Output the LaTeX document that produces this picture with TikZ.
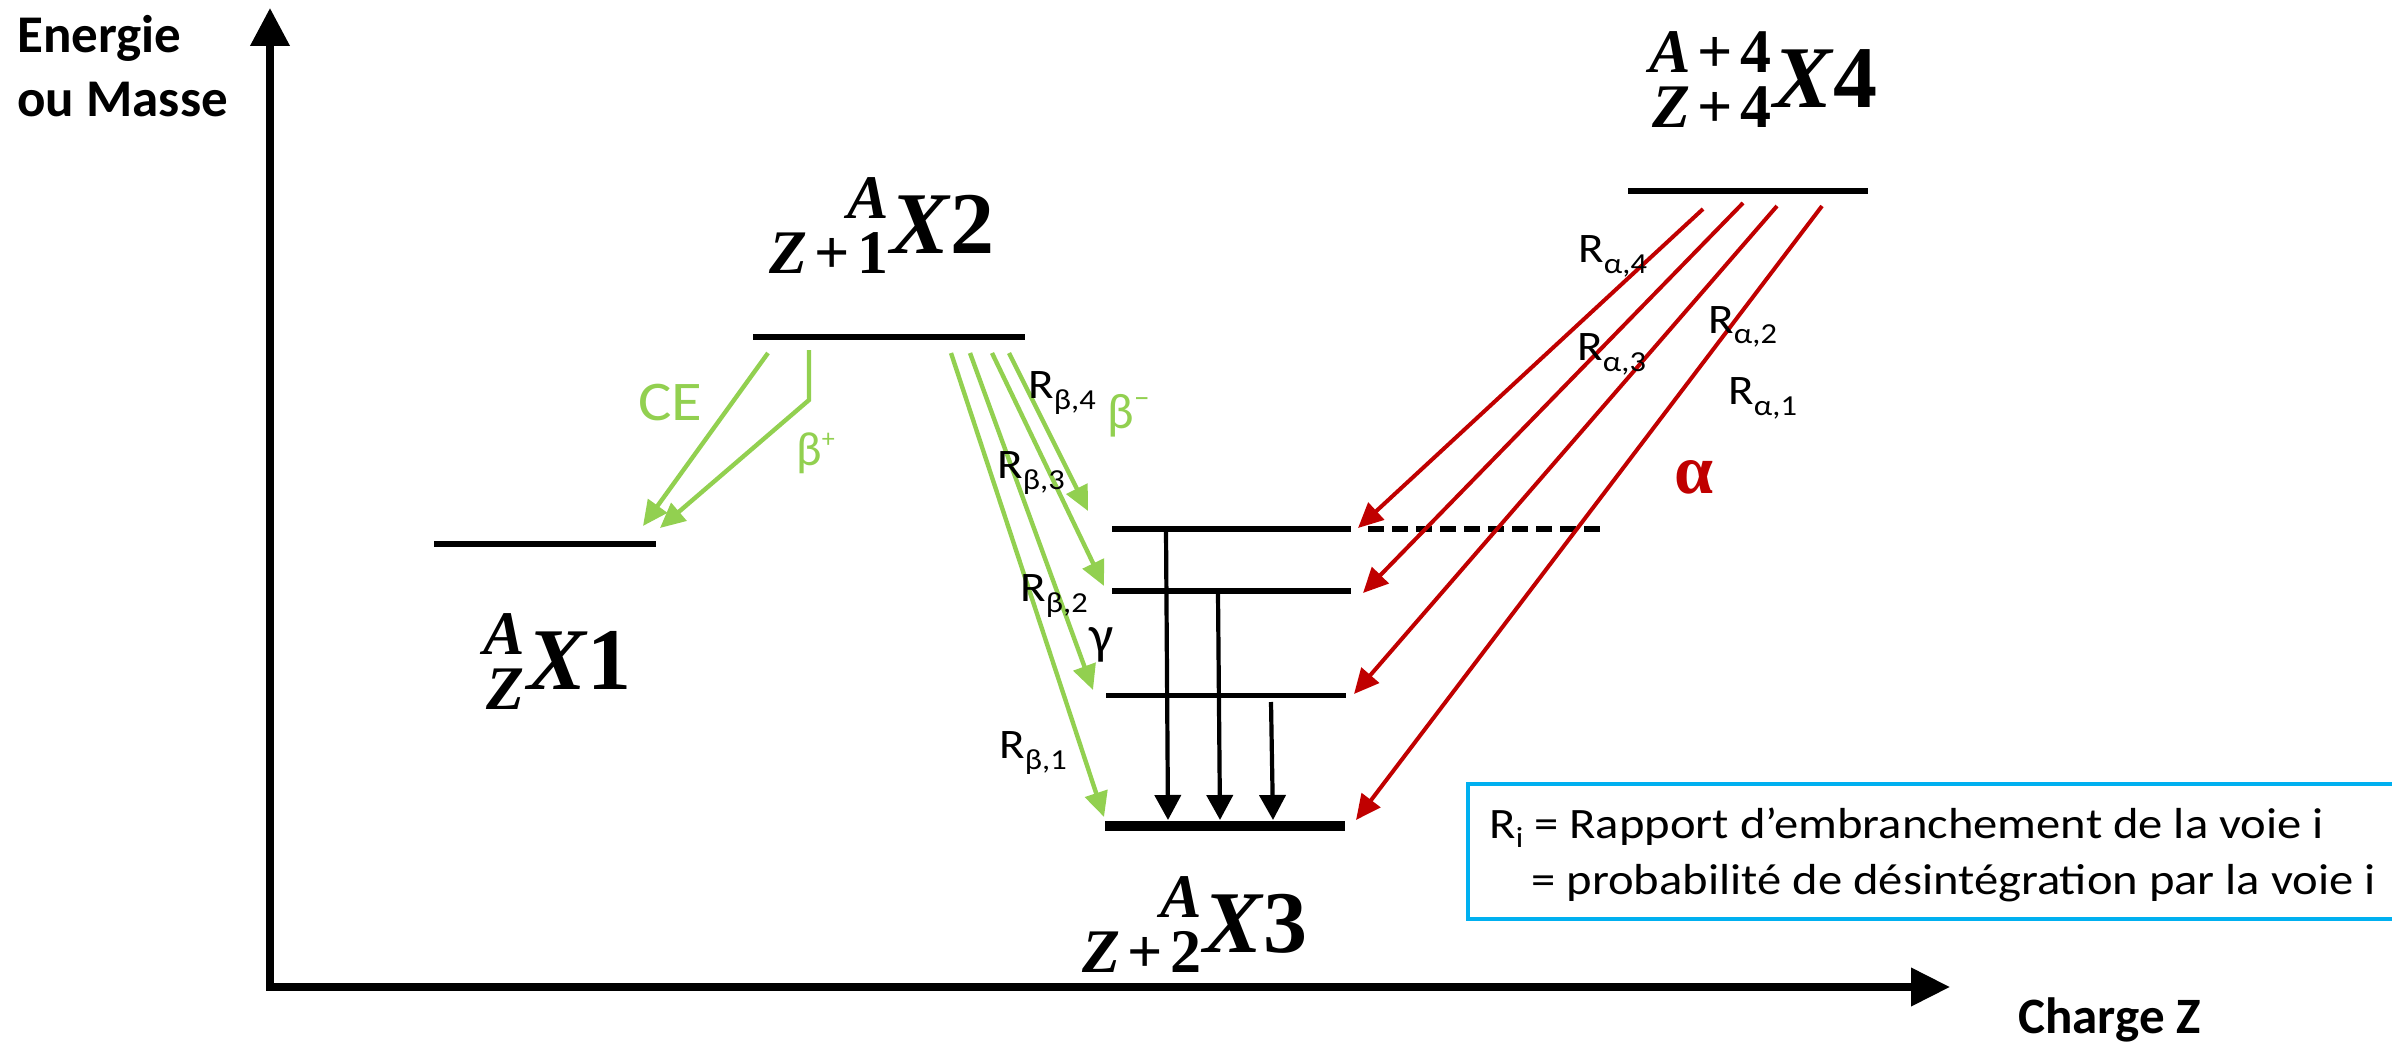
\documentclass[tikz,border=0pt]{standalone}
\usepackage[no-math]{fontspec}
\setmainfont{Carlito}
\newfontfamily\labfont{Carlito}[FakeStretch=1.12]
\newfontfamily\serfont{Liberation Serif}
\usetikzlibrary{arrows.meta}
\definecolor{vert}{HTML}{92D050}
\definecolor{rouge}{HTML}{C00000}
\definecolor{bleu}{HTML}{00B0F0}
\newcommand\sbs[2][5.5pt]{\raisebox{-#1}{\fontsize{14.5}{14.5}\selectfont #2}}
\newcommand\Rl[1]{R\sbs{#1}}
\newcommand\pl{\kern0.12em+\kern0.12em}
\tikzset{
  txt/.style={inner sep=0pt, anchor=base west},
  lab/.style={txt, font=\labfont\fontsize{21}{24}\selectfont},
  nucmain/.style={inner sep=0pt, anchor=base west, font=\serfont\bfseries\fontsize{44}{44}\selectfont},
  nucscr/.style={inner sep=0pt, anchor=base east, font=\serfont\bfseries\fontsize{31}{31}\selectfont},
  lev/.style={line width=2.6pt},
  groundlev/.style={line width=4.6pt},
  axis/.style={line width=3.6pt},
  garrow/.style={draw=vert, line width=2.2pt, -{Triangle[length=12.5pt,width=11.5pt]}},
  rarrow/.style={draw=rouge, line width=2pt, -{Triangle[length=12.5pt,width=11.5pt]}},
  karrow/.style={draw=black, line width=2.1pt, -{Triangle[length=12.5pt,width=13pt]}},
}
\begin{document}
\begin{tikzpicture}[x=0.5pt,y=-0.5pt]
\useasboundingbox (0,0) rectangle (2392,1043);
% axes
\coordinate (O) at (270,987);
\coordinate (ytip) at (270,8);
\coordinate (xtip) at (1950,987);
\draw[axis, {Triangle[length=19pt,width=19pt]}-{Triangle[length=19.5pt,width=18.5pt]}] (ytip) -- (O) -- (xtip);
\node[txt, font=\bfseries\fontsize{26.5}{30}\selectfont] (ylab1) at (17,53) {Energie};
\node[txt, font=\bfseries\fontsize{26.5}{30}\selectfont] (ylab2) at (17,117) {ou Masse};
\node[txt, font=\bfseries\fontsize{25.5}{30}\selectfont] (xlab) at (2018,1033) {Charge Z};
% levels
\coordinate (L1a) at (434,544); \coordinate (L1b) at (656,544);
\coordinate (L2a) at (753,337); \coordinate (L2b) at (1025,337);
\coordinate (L4a) at (1628,191); \coordinate (L4b) at (1868,191);
\coordinate (E3a) at (1112,529); \coordinate (E3b) at (1351,529);
\coordinate (E2a) at (1112,591); \coordinate (E2b) at (1351,591);
\coordinate (E1a) at (1106,695.5); \coordinate (E1b) at (1346,695.5);
\coordinate (Ga) at (1105,826); \coordinate (Gb) at (1345,826);
\coordinate (Da) at (1368,529); \coordinate (Db) at (1603,529);
\draw[lev] (L1a) -- (L1b);
\draw[lev] (L2a) -- (L2b);
\draw[lev] (L4a) -- (L4b);
\draw[lev] (E3a) -- (E3b);
\draw[lev] (E2a) -- (E2b);
\draw[lev] (E1a) -- (E1b);
\draw[groundlev] (Ga) -- (Gb);
\draw[lev, dash pattern=on 8pt off 4pt] (Da) -- (Db);
% nuclide labels
\node[nucmain] (x1) at (527,689) {\textit{X}1};
\node[nucscr] (x1sup) at (525,654) {\textit{A}};
\node[nucscr] (x1sub) at (525,709) {\textit{Z}};
\node[nucmain] (x2) at (890,253.6) {\textit{X}2};
\node[nucscr] (x2sup) at (889,218.6) {\textit{A}};
\node[nucscr] (x2sub) at (889,273.6) {\textit{Z}\pl 1};
\node[nucmain] (x3) at (1203,952) {\textit{X}3};
\node[nucscr] (x3sup) at (1202,917) {\textit{A}};
\node[nucscr] (x3sub) at (1202,972) {\textit{Z}\pl 2};
\node[nucmain] (x4) at (1773,108) {\textit{X}4};
\node[nucscr] (x4sup) at (1772,73) {\textit{A}\pl 4};
\node[nucscr] (x4sub) at (1772,128) {\textit{Z}\pl 4};
% beta+ / CE
\coordinate (ce0) at (768,353); \coordinate (ce1) at (643,526);
\coordinate (bp0) at (809,350); \coordinate (bpk) at (809,400); \coordinate (bp1) at (660,528);
\draw[garrow] (ce0) -- (ce1);
\draw[garrow] (bp0) -- (bpk) -- (bp1);
\node[txt, text=vert, font=\labfont\fontsize{28}{30}\selectfont] (ce) at (638,420) {CE};
\node[txt, text=vert, font=\fontsize{24}{28}\selectfont] (bplus) at (796,465) {β\raisebox{9pt}{\fontsize{13}{13}\selectfont +}};
% beta-
\coordinate (b1s) at (951,353); \coordinate (b1e) at (1104,817);
\coordinate (b2s) at (970,353); \coordinate (b2e) at (1093,690);
\coordinate (b3s) at (992,353); \coordinate (b3e) at (1104,586);
\coordinate (b4s) at (1009,353); \coordinate (b4e) at (1088,511);
\draw[garrow] (b1s) -- (b1e);
\draw[garrow] (b2s) -- (b2e);
\draw[garrow] (b3s) -- (b3e);
\draw[garrow] (b4s) -- (b4e);
\node[txt, text=vert, font=\fontsize{25}{28}\selectfont] (bminus) at (1107,428) {β\raisebox{10.5pt}{\fontsize{16}{16}\selectfont –}};
\node[lab] (rb4) at (1028,398) {\Rl{β,4}};
\node[lab] (rb3) at (997,478) {\Rl{β,3}};
\node[lab] (rb2) at (1020,601) {\Rl{β,2}};
\node[lab] (rb1) at (999,758) {\Rl{β,1}};
% gamma
\coordinate (g1s) at (1166,531); \coordinate (g1e) at (1168,820);
\coordinate (g2s) at (1218,594); \coordinate (g2e) at (1220,820);
\coordinate (g3s) at (1271,702); \coordinate (g3e) at (1273,820);
\draw[karrow] (g1s) -- (g1e);
\draw[karrow] (g2s) -- (g2e);
\draw[karrow] (g3s) -- (g3e);
\node[txt, font=\fontsize{27}{30}\selectfont] (gam) at (1089,653) {γ};
% alpha
\coordinate (a4s) at (1703,209); \coordinate (a4e) at (1358,528);
\coordinate (a3s) at (1743,203); \coordinate (a3e) at (1363,593);
\coordinate (a2s) at (1777,206); \coordinate (a2e) at (1354,694);
\coordinate (a1s) at (1822,206); \coordinate (a1e) at (1356,820);
\draw[rarrow] (a4s) -- (a4e);
\draw[rarrow] (a3s) -- (a3e);
\draw[rarrow] (a2s) -- (a2e);
\draw[rarrow] (a1s) -- (a1e);
\node[lab] (ra4) at (1578,263) {\Rl{α,4}};
\node[lab] (ra3) at (1577,360) {\Rl{α,3}};
\node[lab] (ra2) at (1708,333) {\Rl{α,2}};
\node[lab] (ra1) at (1728,404) {\Rl{α,1}};
\node[inner sep=0pt, text=rouge, font=\serfont\bfseries\fontsize{35}{40}\selectfont] (alph) at (1694,477) {α};
% definition box
\draw[bleu, line width=2pt] (2392,784) -- (1468,784) -- (1468,919) -- (2392,919);
\node[txt, font=\labfont\fontsize{21.7}{26}\selectfont] (def1) at (1489,838) {R\sbs[4.5pt]{i} = Rapport d’embranchement de la voie i};
\node[txt, font=\labfont\fontsize{21.7}{26}\selectfont] (def2) at (1531,894) {= probabilité de désintégration par la voie i};
\end{tikzpicture}
\end{document}
